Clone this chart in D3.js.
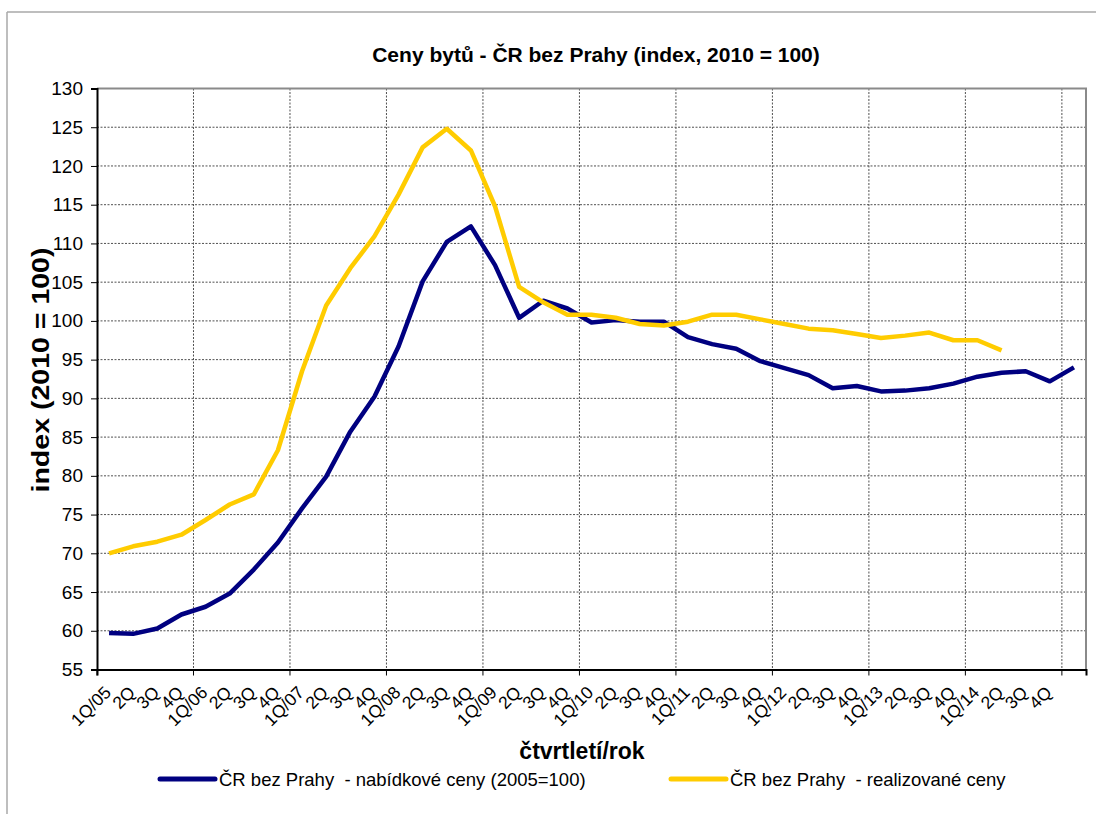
<!DOCTYPE html>
<html><head><meta charset="utf-8">
<script src="https://cdn.jsdelivr.net/npm/d3@7"></script>
<style>
html,body{margin:0;padding:0;background:#fff;}
svg{display:block;font-family:"Liberation Sans",Arial,sans-serif;}
svg text{white-space:pre;}
</style></head>
<body>
<svg id="chart" width="1096" height="814"></svg>
<script>
const categories = ["1Q/05","2Q","3Q","4Q","1Q/06","2Q","3Q","4Q","1Q/07","2Q","3Q","4Q",
  "1Q/08","2Q","3Q","4Q","1Q/09","2Q","3Q","4Q","1Q/10","2Q","3Q","4Q",
  "1Q/11","2Q","3Q","4Q","1Q/12","2Q","3Q","4Q","1Q/13","2Q","3Q","4Q",
  "1Q/14","2Q","3Q","4Q",""];
const offerPrices = [59.7,59.6,60.3,62.1,63.1,64.8,67.9,71.4,75.8,79.9,85.7,90.2,
  96.7,105.1,110.2,112.2,107.2,100.4,102.6,101.6,99.8,100.1,99.9,99.9,
  97.9,97.0,96.4,94.8,93.9,93.0,91.3,91.6,90.9,91.0,91.3,91.9,
  92.8,93.3,93.5,92.2,94.0];
const realizedPrices = [70.0,70.9,71.5,72.4,74.3,76.3,77.6,83.3,93.5,102.0,106.8,110.9,
  116.3,122.4,124.8,122.0,114.8,104.4,102.4,100.8,100.8,100.4,99.6,99.4,
  99.9,100.8,100.8,100.2,99.6,99.0,98.8,98.3,97.8,98.1,98.5,97.5,
  97.5,96.2];
const yTicks = [55,60,65,70,75,80,85,90,95,100,105,110,115,120,125,130];
const seriesNames = ["ČR bez Prahy  - nabídkové ceny (2005=100)","ČR bez Prahy  - realizované ceny"];
const seriesColors = ["#000080","#FFCC00"];

const svg = d3.select("#chart");
const L = 97, R = 1086, T = 88.5, B = 669.5;

// outer frame
svg.append("line").attr("x1",7).attr("x2",1096).attr("y1",12).attr("y2",12).attr("stroke","#a8a8a8").attr("stroke-width",1.5);
svg.append("line").attr("x1",7).attr("x2",7).attr("y1",12).attr("y2",814).attr("stroke","#a8a8a8").attr("stroke-width",1.5);

const x = d3.scaleBand().domain(d3.range(categories.length)).range([L,R]).padding(0);
const y = d3.scaleLinear().domain([55,130]).range([B,T]);

// horizontal grid
svg.append("g").selectAll("line").data(yTicks.filter(v=>v>55 && v<130)).join("line")
  .attr("x1",L).attr("x2",R).attr("y1",d=>y(d)).attr("y2",d=>y(d))
  .attr("stroke","#505050").attr("stroke-width",1).attr("stroke-dasharray","2,1.5");
// vertical grid
const vIdx = d3.range(4, categories.length, 4);
svg.append("g").selectAll("line").data(vIdx).join("line")
  .attr("x1",d=>x(d)).attr("x2",d=>x(d)).attr("y1",T).attr("y2",B)
  .attr("stroke","#505050").attr("stroke-width",1).attr("stroke-dasharray","2,1.5");

// plot border top/right
svg.append("path").attr("d",`M${L},${T}H${R}V${B}`).attr("fill","none").attr("stroke","#8a8a8a").attr("stroke-width",2);

// y axis
const yAxis = d3.axisLeft(y).tickValues(yTicks).tickSize(6).tickPadding(8);
const gy = svg.append("g").attr("transform",`translate(${L},0)`).call(yAxis);
gy.select(".domain").attr("stroke","#000").attr("stroke-width",2);
gy.selectAll(".tick line").attr("stroke","#000");
gy.selectAll(".tick text").attr("font-size",19).attr("fill","#000").attr("font-family","Liberation Sans, Arial, sans-serif");

// x axis
const xAxis = d3.axisBottom(x).tickValues(vIdx.concat([0])).tickSize(6).tickFormat("");
const gx = svg.append("g").attr("transform",`translate(0,${B})`).call(xAxis);
gx.select(".domain").attr("stroke","#000").attr("stroke-width",2);
gx.selectAll(".tick").attr("transform",d=>`translate(${x(d)},0)`);
gx.selectAll(".tick line").attr("stroke","#000");

// x labels
svg.append("g").selectAll("text").data(categories.map((c,i)=>({c,i}))).join("text")
  .attr("transform",d=>`translate(${x(d.i)+x.bandwidth()/2+3},${B+24}) rotate(-45)`)
  .attr("text-anchor","end")
  .attr("font-size",17.5).attr("fill","#000").text(d=>d.c);

// lines
const line = d3.line().x((d,i)=>x(i)+x.bandwidth()/2).y(d=>y(d));
[offerPrices, realizedPrices].forEach((s,k)=>{
  svg.append("path").datum(s).attr("d",line).attr("fill","none")
    .attr("stroke",seriesColors[k]).attr("stroke-width",4.5)
    .attr("stroke-linejoin","round").attr("stroke-linecap","butt");
});

// titles
svg.append("text").attr("x",596).attr("y",62).attr("text-anchor","middle")
  .attr("font-weight","bold").attr("font-size",21).text("Ceny bytů - ČR bez Prahy (index, 2010 = 100)");
svg.append("text").attr("transform","translate(49,370) rotate(-90)").attr("text-anchor","middle")
  .attr("font-weight","bold").attr("font-size",23)
  .attr("textLength",245).attr("lengthAdjust","spacingAndGlyphs").text("index (2010 = 100)");
svg.append("text").attr("x",582).attr("y",759).attr("text-anchor","middle")
  .attr("font-weight","bold").attr("font-size",23).text("čtvrtletí/rok");

// legend
const legX = [160, 671];
seriesNames.forEach((n,k)=>{
  svg.append("line").attr("x1",legX[k]).attr("x2",legX[k]+55).attr("y1",779).attr("y2",779)
    .attr("stroke",seriesColors[k]).attr("stroke-width",5).attr("stroke-linecap","round");
  svg.append("text").attr("x",legX[k]+59).attr("y",785.5).attr("font-size",18.5).text(n);
});
</script>
</body></html>
